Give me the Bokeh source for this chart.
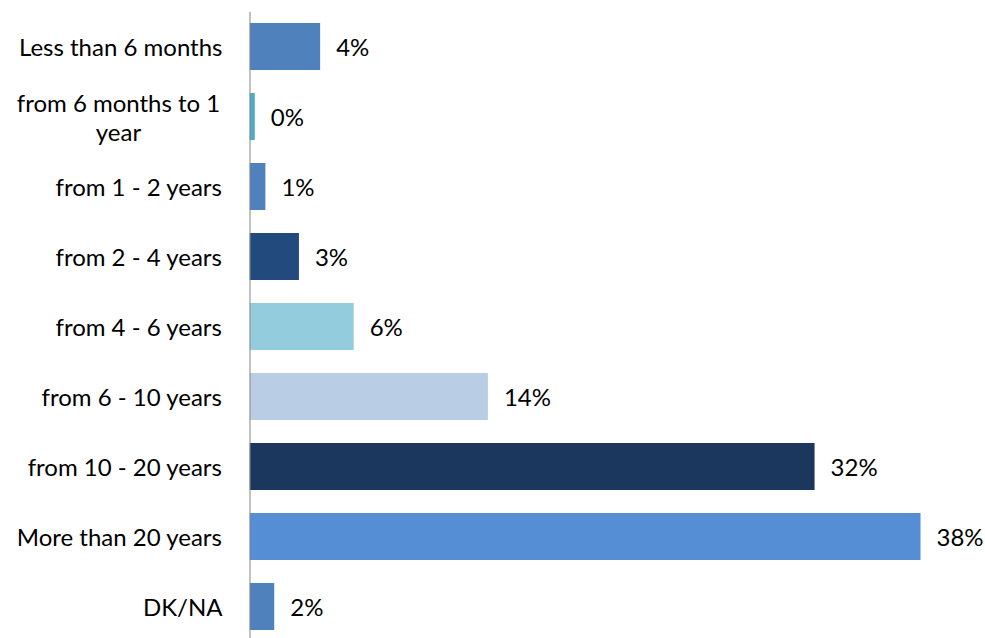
from bokeh.plotting import figure
from bokeh.models import ColumnDataSource, Range1d, Span
from bokeh.core.properties import value
from bokeh.embed import file_html
from bokeh.resources import INLINE

categories = ["Less than 6 months", "from 6 months to 1\nyear", "from 1 - 2 years",
              "from 2 - 4 years", "from 4 - 6 years", "from 6 - 10 years",
              "from 10 - 20 years", "More than 20 years", "DK/NA"]
values = [4.0, 0.3, 0.9, 2.8, 5.9, 13.5, 32.0, 38.0, 1.4]
labels = ["4%", "0%", "1%", "3%", "6%", "14%", "32%", "38%", "2%"]
colors = ["#4F81BD", "#4BACC6", "#4F81BD", "#234A7D", "#93CDDD", "#B9CDE5",
          "#1B375E", "#558ED5", "#4F81BD"]

FONT = "Lato"
FS = "24px"

# category slot positions (top to bottom)
pos = list(range(len(categories)))
# category label layout: single-line labels right aligned, wrapped label centred
cat_align = ["center" if "\n" in c else "right" for c in categories]
cat_offset = [-131 if "\n" in c else -27 for c in categories]
zeros = [0] * len(categories)

src = ColumnDataSource(dict(pos=pos, cat=categories, val=values, lab=labels, col=colors,
                            zero=zeros, align=cat_align, off=cat_offset))

p = figure(width=985, height=638, output_backend="svg", toolbar_location=None,
           y_range=Range1d(8.457, -0.5), x_range=Range1d(0, 41.68),
           min_border_left=249, min_border_right=0, min_border_top=11, min_border_bottom=0)

p.hbar(y="pos", right="val", left=0, height=0.67, color="col", line_color=None, source=src)
p.text(x="val", y="pos", text="lab", source=src, x_offset=16, text_baseline="middle",
       text_align="left", text_font=value(FONT), text_font_size=FS, text_color="#000000")
p.text(x="zero", y="pos", text="cat", source=src, x_offset="off", text_align="align",
       text_baseline="middle", text_font=value(FONT), text_font_size=FS,
       text_line_height=1.0, text_color="#000000", level="overlay")

p.add_layout(Span(location=0, dimension="height", line_color="#868686", line_width=2))

p.xaxis.visible = False
p.yaxis.visible = False
p.xgrid.visible = False
p.ygrid.visible = False
p.outline_line_color = None

open("out.html", "w").write(file_html(p, INLINE))
